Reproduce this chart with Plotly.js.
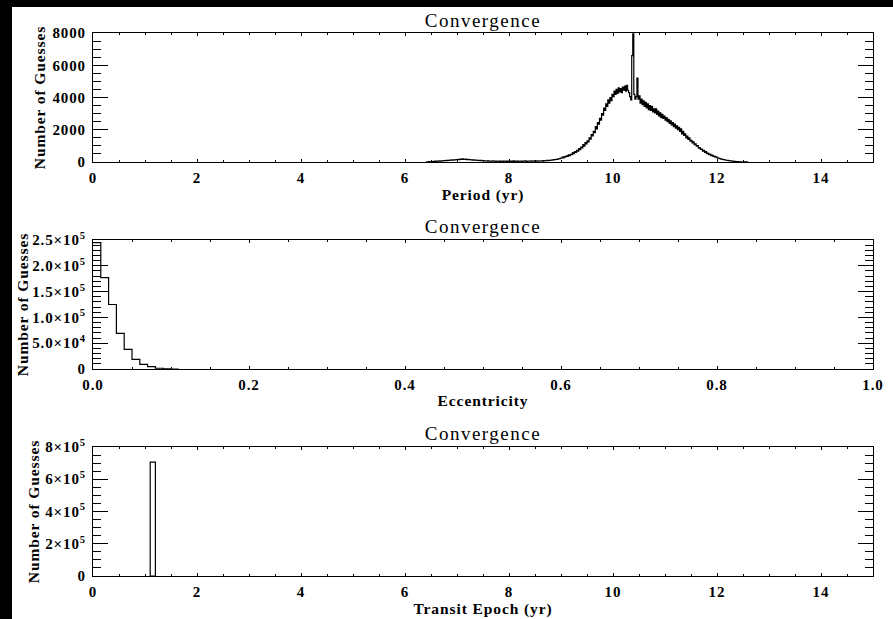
<!DOCTYPE html>
<html>
<head>
<meta charset="utf-8">
<script src="https://cdn.plot.ly/plotly-3.0.1.min.js"></script>
<style>
  html, body { margin: 0; padding: 0; background: #000; width: 893px; height: 619px; overflow: hidden; }
  #plot { position: absolute; left: 12px; top: 7px; width: 881px; height: 612px; background: #fff; }
  #plot text { letter-spacing: 0.9px; }
  #plot .annotation-text { letter-spacing: 1.5px; }
</style>
</head>
<body>
<div id="plot"></div>
<script>
// ---------------- DATA ----------------
// Panel 1: Period histogram (bin start, bin width in yr, counts)
const periodBinStart = 6.40;
const periodBinWidth = 0.02;
const periodCounts = [
  0, 10, 0, 20, 10, 30, 20, 40, 30, 50,            // 6.40
  40, 60, 50, 70, 60, 80, 70, 90, 80, 100,         // 6.60
  90, 110, 100, 120, 110, 130, 120, 140, 130, 150, // 6.80
  140, 170, 150, 180, 160, 190, 170, 160, 180, 150,// 7.00
  160, 140, 150, 130, 140, 120, 130, 110, 120, 100,// 7.20
  110, 100, 90, 100, 80, 90, 70, 80, 70, 60,       // 7.40
  70, 60, 50, 60, 70, 50, 60, 40, 50, 60,          // 7.60
  50, 40, 60, 50, 40, 50, 60, 40, 50, 40,          // 7.80
  50, 60, 40, 50, 70, 40, 50, 60, 40, 50,          // 8.00
  60, 50, 40, 60, 50, 70, 50, 40, 60, 50,          // 8.20
  60, 70, 50, 60, 80, 60, 70, 50, 60, 80,          // 8.40
  70, 80, 60, 90, 70, 80, 100, 90, 110, 100,       // 8.60
  120, 110, 130, 150, 140, 170, 160, 190, 200, 230,// 8.80
  250, 300, 260, 340, 310, 390, 350, 440, 400, 480,           // 9.00
  460, 580, 520, 650, 600, 720, 680, 830, 760, 920,           // 9.20
  880, 1080, 990, 1200, 1130, 1320, 1250, 1500, 1420, 1700,   // 9.40
  1620, 1900, 1820, 2200, 2050, 2450, 2350, 2700, 2600, 3000, // 9.60
  2900, 3350, 3200, 3600, 3450, 3850, 3650, 4000, 3800, 4200, // 9.80
  4050, 4400, 4200, 4500, 4250, 4600, 4350, 4550, 4300, 4650, // 10.00
  4450, 4700, 4400, 4750, 4450, 4300, 4050, 3850, 6600, 7950, // 10.20
  4200, 3900, 4050, 5200, 3900, 4100, 3650, 3900, 3550, 3800, // 10.40
  3450, 3700, 3350, 3600, 3250, 3500, 3200, 3450, 3100, 3300, // 10.60
  3050, 3300, 2950, 3150, 2850, 3050, 2750, 2950, 2700, 2850, // 10.80
  2600, 2750, 2500, 2650, 2400, 2550, 2300, 2450, 2200, 2350, // 11.00
  2100, 2250, 2000, 2150, 1900, 2050, 1750, 1900, 1650, 1750, // 11.20
  1500, 1600, 1400, 1500, 1300, 1350, 1180, 1250, 1080, 1120, // 11.40
  980, 1020, 860, 900, 780, 800, 680, 720, 600, 640,          // 11.60
  520, 560, 460, 490, 400, 430, 350, 370, 300, 320,           // 11.80
  260, 240, 220, 200, 180, 170, 150, 140, 120, 110,           // 12.00
  100, 90, 80, 70, 60, 50, 45, 40, 30, 25,                    // 12.20
  20, 15, 15, 10, 10, 5, 5, 0, 5, 0                           // 12.40
];

// Panel 2: Eccentricity histogram
const eccBinStart = 0.0;
const eccBinWidth = 0.01;
const eccCounts = [245000, 177000, 125000, 69000, 38000, 18500, 9000, 4500, 1500, 400, 0];

// Panel 3: Transit epoch histogram
const epochBinStart = [1.10];
const epochBinWidth = 0.10;
const epochCounts = [706000];

// Tick labels
const periodTicks = [0, 2000, 4000, 6000, 8000];
const periodTickText = ['0', '2000', '4000', '6000', '8000'];
const eccTicks = [0, 50000, 100000, 150000, 200000, 250000];
const eccTickText = ['0', '5.0×10<sup>4</sup>', '1.0×10<sup>5</sup>', '1.5×10<sup>5</sup>', '2.0×10<sup>5</sup>', '2.5×10<sup>5</sup>'];
const epochTicks = [0, 200000, 400000, 600000, 800000];
const epochTickText = ['0', '2×10<sup>5</sup>', '4×10<sup>5</sup>', '6×10<sup>5</sup>', '8×10<sup>5</sup>'];

const titles = ['Convergence', 'Convergence', 'Convergence'];
const xTitles = ['Period (yr)', 'Eccentricity', 'Transit Epoch (yr)'];
const yTitle = 'Number of Guesses';

// ---------------- BUILD ----------------
function stepXY(start, width, counts) {
  const x = [], y = [];
  for (let i = 0; i < counts.length; i++) {
    x.push(start + i * width);
    y.push(counts[i]);
  }
  x.push(start + counts.length * width);
  y.push(counts[counts.length - 1]);
  return { x, y };
}

const p1 = stepXY(periodBinStart, periodBinWidth, periodCounts);
const p2 = stepXY(eccBinStart, eccBinWidth, eccCounts);

const lineStyle = { color: '#000', width: 1.2, shape: 'hv' };

const traces = [
  { type: 'scatter', mode: 'lines', x: p1.x, y: p1.y, line: lineStyle, xaxis: 'x', yaxis: 'y', showlegend: false },
  { type: 'scatter', mode: 'lines', x: p2.x, y: p2.y, line: lineStyle, xaxis: 'x2', yaxis: 'y2', showlegend: false },
  { type: 'bar', x: epochBinStart, y: epochCounts, width: epochBinWidth, offset: 0,
    marker: { color: '#fff', line: { color: '#000', width: 1.2 } }, xaxis: 'x3', yaxis: 'y3', showlegend: false }
];

const SERIF = 'Liberation Serif';
const tickFont = { family: SERIF, size: 15, color: '#000', weight: 'bold' };
const titleFont = { family: SERIF, size: 15.5, color: '#000', weight: 'bold' };

function xAxis(range, dtick, minorDtick, fmt, title, anchor) {
  return {
    range: range, dtick: dtick, tick0: 0, tickformat: fmt,
    ticks: 'inside', ticklen: 3, tickwidth: 1, tickcolor: '#000',
    minor: { dtick: minorDtick, ticks: 'inside', ticklen: 2, tickwidth: 1, tickcolor: '#000', showgrid: false },
    mirror: 'allticks', showline: true, linecolor: '#000', linewidth: 1,
    showgrid: false, zeroline: false, anchor: anchor,
    tickfont: tickFont, ticklabelstandoff: 2,
    title: { text: title, font: titleFont, standoff: 3 }
  };
}
function yAxis(range, vals, text, minorDtick, domain, anchor) {
  return {
    range: range, domain: domain, tickvals: vals, ticktext: text,
    ticks: 'inside', ticklen: 15, tickwidth: 1, tickcolor: '#000',
    minor: { dtick: minorDtick, tick0: 0, ticks: 'inside', ticklen: 8, tickwidth: 1, tickcolor: '#000', showgrid: false },
    mirror: 'allticks', showline: true, linecolor: '#000', linewidth: 1,
    showgrid: false, zeroline: false, anchor: anchor,
    tickfont: tickFont, ticklabelstandoff: 3,
    title: { text: yTitle, font: titleFont, standoff: 6 }
  };
}

const layout = {
  width: 881, height: 612,
  margin: { l: 81, r: 20, t: 26, b: 43 },
  paper_bgcolor: '#fff', plot_bgcolor: '#fff',
  font: { family: SERIF, color: '#000' },
  showlegend: false,
  bargap: 0,
  xaxis: xAxis([0, 15], 2, 0.5, 'd', xTitles[0], 'y'),
  yaxis: yAxis([0, 8000], periodTicks, periodTickText, 500, [0.7624, 1], 'x'),
  xaxis2: xAxis([0, 1], 0.2, 0.05, '.1f', xTitles[1], 'y2'),
  yaxis2: yAxis([0, 250000], eccTicks, eccTickText, 10000, [0.3812, 0.6188], 'x2'),
  xaxis3: xAxis([0, 15], 2, 0.5, 'd', xTitles[2], 'y3'),
  yaxis3: yAxis([0, 800000], epochTicks, epochTickText, 50000, [0, 0.2376], 'x3'),
  annotations: titles.map((t, i) => ({
    text: t, showarrow: false,
    xref: (i === 0 ? 'x' : 'x' + (i + 1)) + ' domain', x: 0.5, xanchor: 'center',
    yref: (i === 0 ? 'y' : 'y' + (i + 1)) + ' domain', y: 1, yanchor: 'middle', yshift: 13,
    font: { family: SERIF, size: 19, color: '#000' }
  }))
};

Plotly.newPlot('plot', traces, layout, { staticPlot: true, displayModeBar: false });
</script>
</body>
</html>
